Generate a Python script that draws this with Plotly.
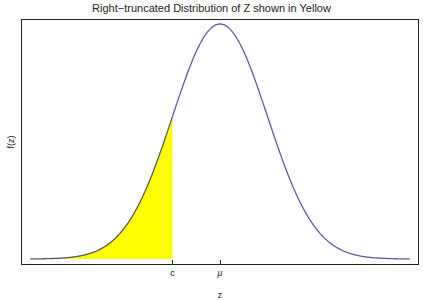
import numpy as np
import plotly.graph_objects as go

# Parameters of the distribution shown
mu = 0.0
sigma = 1.0
c = -1.0
z_min, z_max = -4.0, 4.0

tick_vals = [c, mu]
tick_text = ["c", "<i>μ</i>"]

z = np.linspace(z_min, z_max, 801)
f = np.exp(-0.5 * ((z - mu) / sigma) ** 2) / (sigma * np.sqrt(2 * np.pi))

mask = z <= c + 1e-9
z_fill = z[mask]
f_fill = f[mask]

fig = go.Figure()
fig.add_trace(go.Scatter(x=z_fill, y=f_fill, mode="lines", fill="tozeroy",
                         fillcolor="#FFFF00", line=dict(color="rgba(0,0,0,0)", width=0),
                         hoverinfo="skip", showlegend=False))
fig.add_trace(go.Scatter(x=z_fill, y=f_fill, mode="lines",
                         line=dict(color="#55556e", width=1.3, simplify=False), showlegend=False))
fig.add_trace(go.Scatter(x=z[z >= c - 1e-9], y=f[z >= c - 1e-9], mode="lines",
                         line=dict(color="#5b5ba8", width=1.3, simplify=False), showlegend=False))

fig.update_layout(
    width=423, height=300,
    margin=dict(l=22, r=5, t=20, b=36),
    paper_bgcolor="white", plot_bgcolor="white",
    font=dict(family="Liberation Sans, Arial, sans-serif", color="#222", size=9),
    title=dict(text="Right\u2212truncated Distribution of Z shown in Yellow",
               x=0.5, xanchor="center", y=0.985, yanchor="top",
               font=dict(size=11, color="#222")),
    showlegend=False,
)
fig.update_xaxes(range=[-4.168, 4.168], showgrid=False, zeroline=False,
                 showline=True, linecolor="#222", linewidth=1, mirror=True,
                 tickmode="array", tickvals=tick_vals, ticktext=tick_text,
                 ticks="inside", ticklen=4, tickcolor="#222", automargin=False,
                 title=dict(text="z", standoff=15, font=dict(size=9)))
fig.update_yaxes(range=[-0.0085, 0.4057], showgrid=False, zeroline=False,
                 showline=True, linecolor="#222", linewidth=1, mirror=True,
                 showticklabels=False, ticks="", automargin=False,
                 title=dict(text="f(z)", standoff=4, font=dict(size=9)))

fig.write_html("out.html")
